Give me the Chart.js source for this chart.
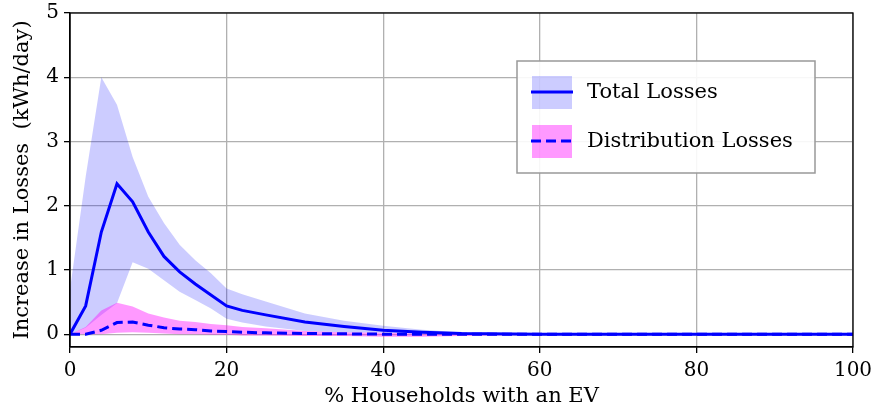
<!DOCTYPE html>
<html>
<head>
<meta charset="utf-8">
<script src="https://cdn.jsdelivr.net/npm/chart.js@4"></script>
<style>
    body { margin: 0; background: #fff; }
    #wrap { width: 876px; height: 411px; }
</style>
</head>
<body>
<div id="wrap"><canvas id="lossChart" width="876" height="411"></canvas></div>
<script>
// % households with an EV
const evShare = [0, 2, 4, 6, 8, 10, 12, 14, 16, 18, 20, 22, 25, 30, 35, 40, 45, 50, 60, 70, 80, 90, 100];

// Total losses (kWh/day): mean and band
const totalMean  = [0, 0.44, 1.59, 2.34, 2.06, 1.59, 1.21, 0.97, 0.78, 0.61, 0.44, 0.37, 0.30, 0.19, 0.12, 0.06, 0.03, 0.01, 0, 0, 0, 0, 0];
const totalUpper = [0.7, 2.45, 4.0, 3.57, 2.76, 2.14, 1.73, 1.39, 1.15, 0.95, 0.71, 0.62, 0.51, 0.32, 0.21, 0.13, 0.07, 0.03, 0.005, 0, 0, 0, 0];
const totalLower = [0, 0.1, 0.3, 0.48, 1.12, 1.02, 0.84, 0.66, 0.53, 0.40, 0.24, 0.18, 0.12, 0.05, 0.03, 0.02, 0.01, 0, 0, 0, 0, 0, 0];

// Distribution losses (kWh/day): mean and band
const distMean  = [0, 0, 0.06, 0.18, 0.19, 0.14, 0.10, 0.08, 0.07, 0.05, 0.04, 0.03, 0.02, 0.01, 0.005, 0, 0, 0, 0, 0, 0, 0, 0];
const distUpper = [0, 0.11, 0.37, 0.49, 0.43, 0.32, 0.26, 0.21, 0.19, 0.16, 0.14, 0.11, 0.09, 0.05, 0.03, 0.02, 0.01, 0.005, 0, 0, 0, 0, 0];
const distLower = [0, 0, 0, 0.02, 0.03, 0.02, 0.01, 0, 0, -0.01, -0.01, -0.02, -0.02, -0.03, -0.03, -0.04, -0.04, -0.03, -0.01, 0, 0, 0, 0];

// Axis ticks
const xTicks = [0, 20, 40, 60, 80, 100];
const yTicks = [0, 1, 2, 3, 4, 5];

const FONT = "'DejaVu Serif', serif";
const BLUE = '#0000ff';
const BLUE_BAND = 'rgba(0, 0, 255, 0.2)';
const PINK_BAND = 'rgba(255, 0, 255, 0.4)';
const DASH = [10, 5];

const pts = arr => arr.map((v, i) => ({ x: evShare[i], y: v }));

const band = (label, values, colour, fill, order) => ({
    label,
    data: pts(values),
    borderWidth: 0,
    borderColor: 'transparent',
    backgroundColor: colour,
    pointRadius: 0,
    tension: 0,
    fill,
    order
});

// Box round the plot + legend in the upper right
const framePlugin = {
    id: 'frame',
    afterDraw(chart) {
        const { ctx, chartArea: a } = chart;
        ctx.save();
        ctx.strokeStyle = '#000';
        ctx.lineWidth = 1.3;
        ctx.strokeRect(a.left, a.top, a.right - a.left, a.bottom - a.top);

        // legend
        const lx = 517, ly = 61, lw = 298, lh = 112;
        ctx.fillStyle = 'rgba(255,255,255,0.9)';
        ctx.fillRect(lx, ly, lw, lh);
        ctx.strokeStyle = '#999';
        ctx.lineWidth = 1.5;
        ctx.strokeRect(lx, ly, lw, lh);

        const items = [
            { text: 'Total Losses', band: BLUE_BAND, dash: [], cy: 92 },
            { text: 'Distribution Losses', band: PINK_BAND, dash: DASH, cy: 141 }
        ];
        items.forEach(it => {
            ctx.fillStyle = it.band;
            ctx.fillRect(532, it.cy - 16, 40, 33);
            ctx.strokeStyle = BLUE;
            ctx.lineWidth = 3;
            ctx.setLineDash(it.dash);
            ctx.beginPath();
            ctx.moveTo(531, it.cy);
            ctx.lineTo(573, it.cy);
            ctx.stroke();
            ctx.setLineDash([]);
            ctx.fillStyle = '#000';
            ctx.font = `21px ${FONT}`;
            ctx.textBaseline = 'middle';
            ctx.fillText(it.text, 587, it.cy + 1);
        });
        ctx.restore();
    }
};

new Chart(document.getElementById('lossChart'), {
    type: 'line',
    data: {
        datasets: [
            band('Total upper', totalUpper, BLUE_BAND, '+1', 10),
            band('Total lower', totalLower, BLUE_BAND, false, 10),
            band('Distribution upper', distUpper, PINK_BAND, '+1', 8),
            band('Distribution lower', distLower, PINK_BAND, false, 8),
            {
                label: 'Total Losses',
                data: pts(totalMean),
                borderColor: BLUE,
                borderWidth: 3,
                pointRadius: 0,
                tension: 0,
                fill: false,
                order: 2
            },
            {
                label: 'Distribution Losses',
                data: pts(distMean),
                borderColor: BLUE,
                borderWidth: 3,
                borderDash: DASH,
                pointRadius: 0,
                tension: 0,
                fill: false,
                order: 1
            }
        ]
    },
    options: {
        responsive: false,
        animation: false,
        layout: { padding: { top: 13, right: 23, left: 0, bottom: 0 } },
        plugins: {
            legend: { display: false },
            tooltip: { enabled: false }
        },
        scales: {
            x: {
                type: 'linear',
                min: 0,
                max: 100,
                afterBuildTicks: s => { s.ticks = xTicks.map(v => ({ value: v })); },
                afterFit: s => {
                    s.height = 64;
                    s.paddingLeft = 0;
                    s.paddingRight = 0;
                },
                grid: { color: '#b0b0b0', lineWidth: 1.3, tickLength: 6, tickColor: '#000', tickWidth: 1.3 },
                border: { display: true, color: '#000', width: 1.3 },
                ticks: { color: '#000', font: { family: FONT, size: 20 }, padding: 6, maxRotation: 0 },
                title: {
                    display: true,
                    text: '% Households with an EV',
                    color: '#000',
                    font: { family: FONT, size: 21 },
                    padding: { top: 0, bottom: 2 }
                }
            },
            y: {
                min: -0.2,
                max: 5,
                afterBuildTicks: s => { s.ticks = yTicks.map(v => ({ value: v })); },
                afterFit: s => {
                    s.width = 70;
                    s.paddingTop = 0;
                    s.paddingBottom = 0;
                },
                grid: { color: '#b0b0b0', lineWidth: 1.3, tickLength: 6, tickColor: '#000', tickWidth: 1.3 },
                border: { display: true, color: '#000', width: 1.3 },
                ticks: { color: '#000', font: { family: FONT, size: 20 }, padding: 5 },
                title: {
                    display: true,
                    text: 'Increase in Losses  (kWh/day)',
                    color: '#000',
                    font: { family: FONT, size: 21 },
                    padding: { top: 10, bottom: 0 }
                }
            }
        }
    },
    plugins: [framePlugin]
});
</script>
</body>
</html>
